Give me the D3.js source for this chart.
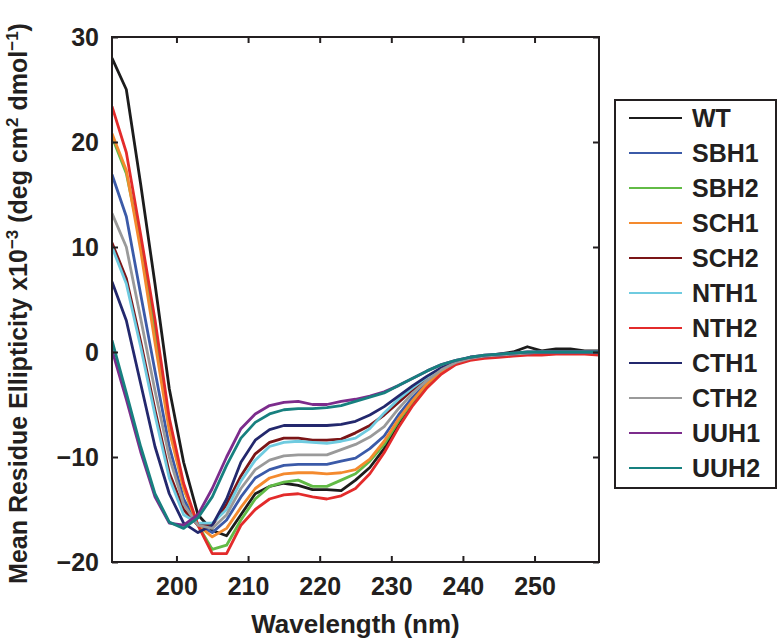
<!DOCTYPE html>
<html>
<head>
<meta charset="utf-8">
<script src="https://cdn.jsdelivr.net/npm/d3@7"></script>
<style>
  body { margin: 0; background: #fff; }
  svg { display: block; }
  text { font-family: "Liberation Sans", Arial, Helvetica, sans-serif; font-weight: bold; fill: #231f20; }
</style>
</head>
<body>
<svg id="chart" width="779" height="640"></svg>
<script>
// ---------- DATA ----------
const wavelengths = [191,193,195,197,199,201,203,205,207,209,211,213,215,217,219,221,223,225,227,229,231,233,235,237,239,241,243,245,247,249,251,253,255,257,259];

const seriesNames = ["WT","SBH1","SBH2","SCH1","SCH2","NTH1","NTH2","CTH1","CTH2","UUH1","UUH2"];
const seriesColors = ["#1c1c1c","#3b5aa8","#62bb46","#f48a2e","#7b1517","#6fcbe0","#e32b2b","#23286d","#9a9a9a","#7c2c8c","#17807f"];

const WT   = [28.0,25.0,16.0,6.5,-3.5,-10.5,-15.5,-17.0,-17.5,-15.5,-13.5,-12.8,-12.5,-12.7,-13.1,-13.1,-13.2,-12.2,-11.0,-9.2,-6.8,-4.8,-3.2,-2.0,-1.1,-0.6,-0.4,-0.2,0.0,0.5,0.1,0.3,0.3,0.1,0.1];
const SBH1 = [16.9,12.9,5.5,-1.8,-9.0,-14.0,-16.5,-17.2,-16.0,-13.8,-12.0,-11.2,-10.8,-10.7,-10.7,-10.7,-10.4,-10.1,-9.2,-8.0,-6.0,-4.3,-2.9,-1.8,-1.0,-0.6,-0.4,-0.3,-0.2,-0.1,0.0,0.0,0.0,0.0,0.0];
const SBH2 = [20.5,17.0,10.5,2.0,-7.0,-13.0,-16.5,-18.8,-18.4,-16.0,-14.0,-12.8,-12.4,-12.2,-12.8,-12.8,-12.2,-11.6,-10.4,-8.8,-6.6,-4.7,-3.1,-1.9,-1.1,-0.6,-0.5,-0.3,-0.2,-0.1,0.0,0.0,0.0,0.0,0.0];
const SCH1 = [20.8,17.3,9.7,0.9,-7.5,-13.0,-16.5,-17.6,-16.8,-14.8,-13.0,-12.0,-11.6,-11.5,-11.5,-11.6,-11.5,-11.2,-10.2,-8.5,-6.4,-4.6,-3.0,-1.9,-1.1,-0.6,-0.4,-0.3,-0.2,-0.1,0.0,0.0,0.0,0.0,0.0];
const SCH2 = [10.4,7.0,1.0,-5.5,-11.5,-15.0,-16.5,-16.5,-14.5,-11.8,-9.7,-8.6,-8.2,-8.2,-8.4,-8.4,-8.3,-7.7,-7.0,-6.0,-4.8,-3.6,-2.5,-1.6,-1.0,-0.6,-0.4,-0.3,-0.2,-0.1,0.0,0.0,0.0,0.0,0.0];
const NTH1 = [10.0,6.5,0.5,-6.0,-12.0,-15.5,-16.3,-16.3,-15.0,-12.3,-10.3,-9.0,-8.6,-8.5,-8.6,-8.7,-8.5,-8.2,-7.3,-5.8,-4.5,-3.4,-2.4,-1.6,-1.0,-0.6,-0.4,-0.3,-0.2,-0.1,0.0,0.0,0.0,0.0,0.0];
const NTH2 = [23.4,19.0,11.2,3.1,-6.3,-12.5,-16.5,-19.2,-19.2,-16.5,-15.0,-14.0,-13.6,-13.5,-13.8,-14.0,-13.7,-13.0,-11.6,-9.6,-7.2,-5.1,-3.4,-2.1,-1.2,-0.8,-0.6,-0.5,-0.4,-0.3,-0.3,-0.2,-0.2,-0.2,-0.3];
const CTH1 = [6.7,3.0,-3.0,-9.0,-13.5,-16.3,-17.2,-16.5,-14.0,-10.5,-8.4,-7.4,-7.0,-7.0,-7.0,-7.0,-6.9,-6.6,-6.0,-5.2,-4.2,-3.2,-2.3,-1.5,-0.9,-0.5,-0.4,-0.3,-0.2,-0.1,0.0,0.0,0.0,0.0,0.0];
const CTH2 = [13.2,10.0,3.2,-3.7,-10.0,-14.5,-16.5,-16.8,-15.5,-13.0,-11.2,-10.3,-9.9,-9.8,-9.8,-9.8,-9.3,-8.8,-8.1,-7.1,-5.4,-3.9,-2.7,-1.7,-1.0,-0.6,-0.4,-0.3,-0.2,-0.1,0.0,0.0,0.0,0.0,0.0];
const UUH1 = [0.2,-4.5,-9.5,-13.8,-16.3,-16.5,-15.5,-13.0,-10.0,-7.3,-5.9,-5.1,-4.8,-4.7,-5.0,-5.0,-4.7,-4.5,-4.2,-3.8,-3.2,-2.5,-1.8,-1.2,-0.8,-0.5,-0.3,-0.2,-0.1,0.0,0.0,0.0,0.0,0.0,0.0];
const UUH2 = [1.1,-3.9,-9.0,-13.5,-16.2,-16.8,-15.8,-13.8,-10.8,-8.2,-6.7,-5.9,-5.5,-5.4,-5.4,-5.3,-5.1,-4.7,-4.3,-3.9,-3.2,-2.5,-1.8,-1.2,-0.8,-0.5,-0.3,-0.2,-0.1,0.0,0.0,0.0,0.0,0.0,0.0];

const seriesValues = [WT,SBH1,SBH2,SCH1,SCH2,NTH1,NTH2,CTH1,CTH2,UUH1,UUH2];

const xTicks = [200,210,220,230,240,250];
const yTicks = [-20,-10,0,10,20,30];

const xTitle = "Wavelength (nm)";

// ---------- LAYOUT ----------
const svg = d3.select("#chart");
const L = 112, R = 599, T = 37, B = 562;

const x = d3.scaleLinear().domain([191, 259]).range([L, R]);
const y = d3.scaleLinear().domain([-20, 30]).range([B, T]);

const ink = "#231f20";

// clip
svg.append("defs").append("clipPath").attr("id","clip")
  .append("rect").attr("x", L).attr("y", T).attr("width", R - L).attr("height", B - T);

// lines
const line = d3.line().x((d, i) => x(wavelengths[i])).y(d => y(d));
const gLines = svg.append("g").attr("clip-path","url(#clip)");
seriesValues.forEach((vals, k) => {
  gLines.append("path")
    .attr("d", line(vals))
    .attr("fill","none")
    .attr("stroke", seriesColors[k])
    .attr("stroke-width", 2.8)
    .attr("stroke-linejoin","round");
});

// axes
const tickLen = 6;
const fontTick = 25;

const xb = svg.append("g").attr("transform", `translate(0,${B})`)
  .call(d3.axisBottom(x).tickValues(xTicks).tickSize(-tickLen).tickSizeOuter(0).tickPadding(15));
const xt = svg.append("g").attr("transform", `translate(0,${T})`)
  .call(d3.axisTop(x).tickValues(xTicks).tickSize(-tickLen).tickSizeOuter(0).tickFormat(""));
const yl = svg.append("g").attr("transform", `translate(${L},0)`)
  .call(d3.axisLeft(y).tickValues(yTicks).tickSize(-tickLen).tickSizeOuter(0).tickPadding(13));
const yr = svg.append("g").attr("transform", `translate(${R},0)`)
  .call(d3.axisRight(y).tickValues(yTicks).tickSize(-tickLen).tickSizeOuter(0).tickFormat(""));

[xb, xt, yl, yr].forEach(g => {
  g.select(".domain").remove();
  g.selectAll(".tick line").attr("stroke", ink).attr("stroke-width", 2);
  g.selectAll(".tick text").attr("font-size", fontTick).attr("fill", ink)
    .style("font-family", '"Liberation Sans", Arial, sans-serif').style("font-weight","bold");
});

// frame
svg.append("rect").attr("x", L).attr("y", T).attr("width", R - L).attr("height", B - T)
  .attr("fill","none").attr("stroke", ink).attr("stroke-width", 2);

// x title
svg.append("text").attr("x", (L + R) / 2).attr("y", 633)
  .attr("text-anchor","middle").attr("font-size", 26).text(xTitle);

// y title
const yt = svg.append("text")
  .attr("transform", `translate(27,${(T + B) / 2 + 4}) rotate(-90)`)
  .attr("text-anchor","middle").attr("font-size", 25);
yt.append("tspan").text("Mean Residue Ellipticity x10");
yt.append("tspan").attr("dy", -9).attr("font-size", 17).text("\u22123");
yt.append("tspan").attr("dy", 9).text(" (deg cm");
yt.append("tspan").attr("dy", -9).attr("font-size", 17).text("2");
yt.append("tspan").attr("dy", 9).text(" dmol");
yt.append("tspan").attr("dy", -9).attr("font-size", 17).text("\u22121");
yt.append("tspan").attr("dy", 9).text(")");

// legend
const lg = svg.append("g");
lg.append("rect").attr("x", 615).attr("y", 100).attr("width", 161).attr("height", 388)
  .attr("fill","#fff").attr("stroke", ink).attr("stroke-width", 2);
seriesNames.forEach((name, i) => {
  const yy = 118 + 35 * i;
  lg.append("line").attr("x1", 629).attr("x2", 682).attr("y1", yy).attr("y2", yy)
    .attr("stroke", seriesColors[i]).attr("stroke-width", 2.2);
  lg.append("text").attr("x", 692).attr("y", yy).attr("dy","0.36em")
    .attr("font-size", 25).text(name);
});
</script>
</body>
</html>
